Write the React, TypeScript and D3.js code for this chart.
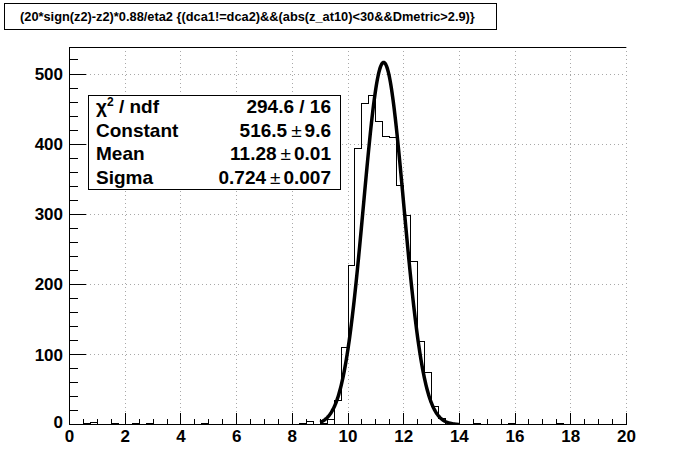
import React from 'react';
import * as d3 from 'd3';

const W = 696;
const H = 472;

// histogram: 80 bins of 0.25 from 0 to 20
const binLow = 0;
const binWidth = 0.25;
const counts = [
  1, 0, 2, 3, 0, 0, 2, 0, 1, 2,
  0, 2, 0, 0, 0, 1, 0, 0, 0, 2,
  0, 1, 1, 1, 1, 0, 1, 1, 0, 0,
  0, 1, 1, 2, 5, 1, 2, 8, 35, 110,
  227, 394, 458, 470, 433, 411, 409, 341, 298, 233,
  119, 75, 26, 9, 3, 1, 0, 0, 2, 0,
  0, 1, 0, 2, 0, 0, 0, 0, 0, 1,
  2, 0, 1, 0, 0, 0, 0, 1, 0, 0,
];

// gaussian fit result
const fitConstant = 516.5;
const fitMean = 11.28;
const fitSigma = 0.724;
const fitRange = [9.0, 14.0];

const xMajor = [0, 2, 4, 6, 8, 10, 12, 14, 16, 18, 20];
const yMajor = [0, 100, 200, 300, 400, 500];
const yMax = 538.2;

const titleText = '(20*sign(z2)-z2)*0.88/eta2 {(dca1!=dca2)&&(abs(z_at10)<30&&Dmetric>2.9)}';
const statLabels = ['Constant', 'Mean', 'Sigma'];
const statValues = ['516.5', '11.28', '0.724'];
const statErrors = ['9.6', '0.01', '0.007'];
const chi2Text = '294.6 / 16';

const font = '"Liberation Sans", Arial, Helvetica, sans-serif';

export default function App() {
  const left = 69.6, right = 626.4, top = 47.2, bottom = 424.8;
  const x = d3.scaleLinear().domain([0, 20]).range([left, right]);
  const y = d3.scaleLinear().domain([0, yMax]).range([bottom, top]);

  const pts: [number, number][] = counts.map((c, i) => [binLow + i * binWidth, c]);
  pts.push([binLow + counts.length * binWidth, counts[counts.length - 1]]);
  const histPath = d3.line<[number, number]>()
    .x(d => x(d[0]))
    .y(d => y(d[1]))
    .curve(d3.curveStepAfter)(pts);

  const gauss = (v: number) => fitConstant * Math.exp(-0.5 * ((v - fitMean) / fitSigma) ** 2);
  const fx = d3.range(fitRange[0], fitRange[1] + 1e-9, 0.02);
  const fitPath = d3.line<number>().x(v => x(v)).y(v => y(gauss(v)))(fx);

  const xMinor = d3.range(0, 20.001, 0.5);
  const yMinor = d3.range(0, yMax, 20);
  const xTickLen = 0.03 * (bottom - top);
  const yTickLen = 0.03 * (right - left);

  const rowH = 23.5;
  const sx1 = 88.5, sy1 = 95.5, sx2 = 340.5;

  return (
    <svg width={W} height={H} style={{ position: 'absolute', left: 0, top: 0, background: '#fff' }}
      fontFamily={font} fontWeight="bold">
      <rect x={0} y={0} width={W} height={H} fill="#fff" />
      <defs>
        <clipPath id="frame">
          <rect x={left} y={top} width={right - left} height={bottom - top} />
        </clipPath>
      </defs>

      {/* grid */}
      <g stroke="#a8a8a8" strokeWidth={1} strokeDasharray="1,3" shapeRendering="crispEdges">
        {xMajor.slice(1).map(t => (
          <line key={'gx' + t} x1={x(t)} x2={x(t)} y1={top} y2={bottom} />
        ))}
        {yMajor.slice(1).map(t => (
          <line key={'gy' + t} x1={left} x2={right} y1={y(t)} y2={y(t)} />
        ))}
      </g>
      <line x1={left} x2={right} y1={top} y2={top} stroke="#000" shapeRendering="crispEdges" />

      {/* histogram and fit */}
      <g clipPath="url(#frame)">
        <path d={histPath || ''} fill="none" stroke="#000" strokeWidth={1} shapeRendering="crispEdges" />
        <path d={fitPath || ''} fill="none" stroke="#000" strokeWidth={3.5} strokeLinejoin="round" />
      </g>

      {/* axes */}
      <g stroke="#000" strokeWidth={1} shapeRendering="crispEdges">
        <line x1={left} x2={right} y1={bottom} y2={bottom} />
        <line x1={left} x2={left} y1={top} y2={bottom} />
        {xMinor.map(t => (
          <line key={'xt' + t} x1={x(t)} x2={x(t)} y1={bottom}
            y2={bottom - (xMajor.includes(t) ? xTickLen : xTickLen / 2)} />
        ))}
        {yMinor.map(t => (
          <line key={'yt' + t} x1={left} y1={y(t)} y2={y(t)}
            x2={left + (yMajor.includes(t) ? yTickLen : yTickLen / 2)} />
        ))}
      </g>
      <g fontSize={17} fill="#000">
        {xMajor.map(t => (
          <text key={'xl' + t} x={x(t)} y={442} textAnchor="middle">{t}</text>
        ))}
        {yMajor.map(t => (
          <text key={'yl' + t} x={63} y={t === 0 ? y(t) + 3 : y(t) + 6} textAnchor="end">{t}</text>
        ))}
      </g>

      {/* stats box */}
      <rect x={sx1} y={sy1} width={sx2 - sx1} height={rowH * 4} fill="#fff" stroke="#000" shapeRendering="crispEdges" />
      <g fontSize={19} fill="#000">
        <text x={96} y={sy1 + 17.5}>
          χ<tspan fontSize={12} dy={-7}>2</tspan><tspan dy={7}> / ndf</tspan>
        </text>
        <text x={331} y={sy1 + 17.5} textAnchor="end">{chi2Text}</text>
        {statLabels.map((l, i) => (
          <g key={l}>
            <text x={96} y={sy1 + 17.5 + rowH * (i + 1)}>{l}</text>
            <text x={331} y={sy1 + 17.5 + rowH * (i + 1)} textAnchor="end">
              {statValues[i]}<tspan dx={4} fontWeight="normal">±</tspan><tspan dx={3}>{statErrors[i]}</tspan>
            </text>
          </g>
        ))}
      </g>

      {/* title */}
      <rect x={4.5} y={3.5} width={492} height={26} fill="#fff" stroke="#000" shapeRendering="crispEdges" />
      <text x={20} y={21} fontSize={12.8} fill="#000">{titleText}</text>
    </svg>
  );
}
